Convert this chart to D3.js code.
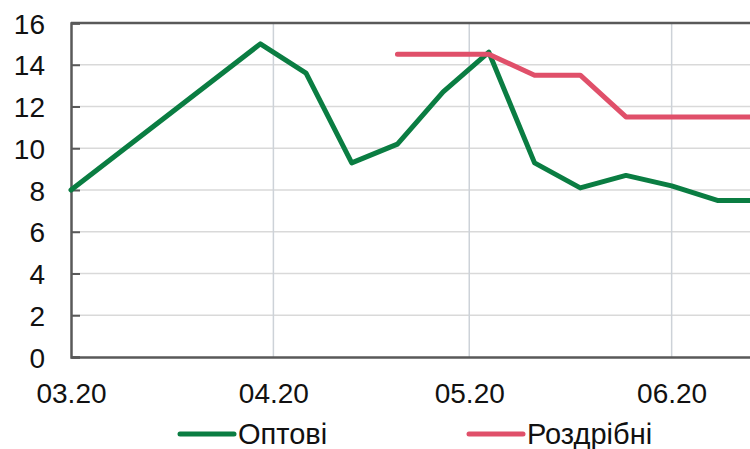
<!DOCTYPE html>
<html>
<head>
<meta charset="utf-8">
<script src="https://cdn.jsdelivr.net/npm/d3@7"></script>
<style>
  body { margin: 0; background: #fff; }
  svg { display: block; font-family: "Liberation Sans", Arial, sans-serif; }
</style>
</head>
<body>
<div id="chart"></div>
<script>
const WIDTH = 750;
const HEIGHT = 449;
const MARGIN = { TOP: 23, BOTTOM: 92, LEFT: 71, RIGHT: 0 };

const width = WIDTH - MARGIN.LEFT - MARGIN.RIGHT;
const height = HEIGHT - MARGIN.TOP - MARGIN.BOTTOM;

// weekly dates (2020)
const dates = ['2020-03-01', '2020-03-30', '2020-04-06', '2020-04-13', '2020-04-20', '2020-04-27',
               '2020-05-04', '2020-05-11', '2020-05-18', '2020-05-25', '2020-06-01', '2020-06-08', '2020-06-15'];
const wholesale = [8, 15, 13.6, 9.3, 10.2, 12.7, 14.6, 9.3, 8.1, 8.7, 8.2, 7.5, 7.5];
const retail = [null, null, null, null, 14.5, 14.5, 14.5, 13.5, 13.5, 11.5, 11.5, 11.5, 11.5];

const xTicks = ['2020-03-01', '2020-04-01', '2020-05-01', '2020-06-01'];
const xTickLabels = ['03.20', '04.20', '05.20', '06.20'];
const yTicks = [0, 2, 4, 6, 8, 10, 12, 14, 16];

const seriesNames = ['Оптові', 'Роздрібні'];
const seriesColors = ['#0a7d42', '#e0506a'];

const parse = d3.timeParse('%Y-%m-%d');

const svg = d3.select('#chart')
  .append('svg')
    .attr('width', WIDTH)
    .attr('height', HEIGHT);

const g = svg.append('g')
    .attr('transform', `translate(${MARGIN.LEFT}, ${MARGIN.TOP})`);

const x = d3.scaleTime()
  .domain([parse('2020-03-01'), parse('2020-06-13')])
  .range([0, width]);

const y = d3.scaleLinear()
  .domain([0, 16])
  .range([height, 0]);

g.append('clipPath').attr('id', 'plot-clip')
  .append('rect')
    .attr('x', -5).attr('y', -10)
    .attr('width', width + 5).attr('height', height + 20);

// horizontal gridlines
g.append('g')
  .selectAll('line')
  .data(yTicks.filter(d => d > 0 && d < 16))
  .enter().append('line')
    .attr('x1', 0).attr('x2', width)
    .attr('y1', d => y(d)).attr('y2', d => y(d))
    .attr('stroke', '#d9d9d9')
    .attr('stroke-width', 1.5);

// vertical gridlines
g.append('g')
  .selectAll('line')
  .data(xTicks.slice(1).map(parse))
  .enter().append('line')
    .attr('x1', d => x(d)).attr('x2', d => x(d))
    .attr('y1', 0).attr('y2', height)
    .attr('stroke', '#cdd2d8')
    .attr('stroke-width', 1.5);

// top border
g.append('line')
  .attr('x1', 0).attr('x2', width)
  .attr('y1', y(16)).attr('y2', y(16))
  .attr('stroke', '#595959')
  .attr('stroke-width', 2.5);

// y axis
const yAxis = g.append('g')
  .call(d3.axisLeft(y).tickValues(yTicks).tickSize(-9).tickPadding(26));
yAxis.select('.domain').attr('stroke', '#595959').attr('stroke-width', 2.5);
yAxis.selectAll('.tick line').attr('stroke', '#595959').attr('stroke-width', 2);
yAxis.selectAll('.tick text')
  .attr('font-size', 28)
  .attr('fill', '#111')
  .attr('dy', '0.36em');

// x axis
const xAxis = g.append('g')
  .attr('transform', `translate(0, ${height})`)
  .call(d3.axisBottom(x)
    .tickValues(xTicks.map(parse))
    .tickFormat((d, i) => xTickLabels[i])
    .tickSize(0)
    .tickPadding(26));
xAxis.select('.domain').attr('stroke', '#595959').attr('stroke-width', 2.5);
xAxis.selectAll('.tick text')
  .attr('font-size', 28)
  .attr('fill', '#111');

// lines
const line = d3.line()
  .defined(d => d.v != null)
  .x(d => x(d.date))
  .y(d => y(d.v));

[wholesale, retail].forEach((vals, i) => {
  const pts = vals.map((v, j) => ({ date: parse(dates[j]), v: v }));
  g.append('path')
    .datum(pts)
    .attr('clip-path', 'url(#plot-clip)')
    .attr('fill', 'none')
    .attr('stroke', seriesColors[i])
    .attr('stroke-width', 5)
    .attr('stroke-linejoin', 'round')
    .attr('stroke-linecap', 'round')
    .attr('d', line);
});

// legend
const legendX = [180, 469];
const legend = svg.append('g');
seriesNames.forEach((name, i) => {
  const lg = legend.append('g').attr('transform', `translate(${legendX[i]}, 434)`);
  lg.append('line')
    .attr('x1', 0).attr('x2', 54)
    .attr('y1', 0).attr('y2', 0)
    .attr('stroke', seriesColors[i])
    .attr('stroke-width', 5)
    .attr('stroke-linecap', 'round');
  lg.append('text')
    .attr('x', 58)
    .attr('y', 0)
    .attr('dy', '0.35em')
    .attr('font-size', 29)
    .attr('fill', '#111')
    .text(name);
});
</script>
</body>
</html>
